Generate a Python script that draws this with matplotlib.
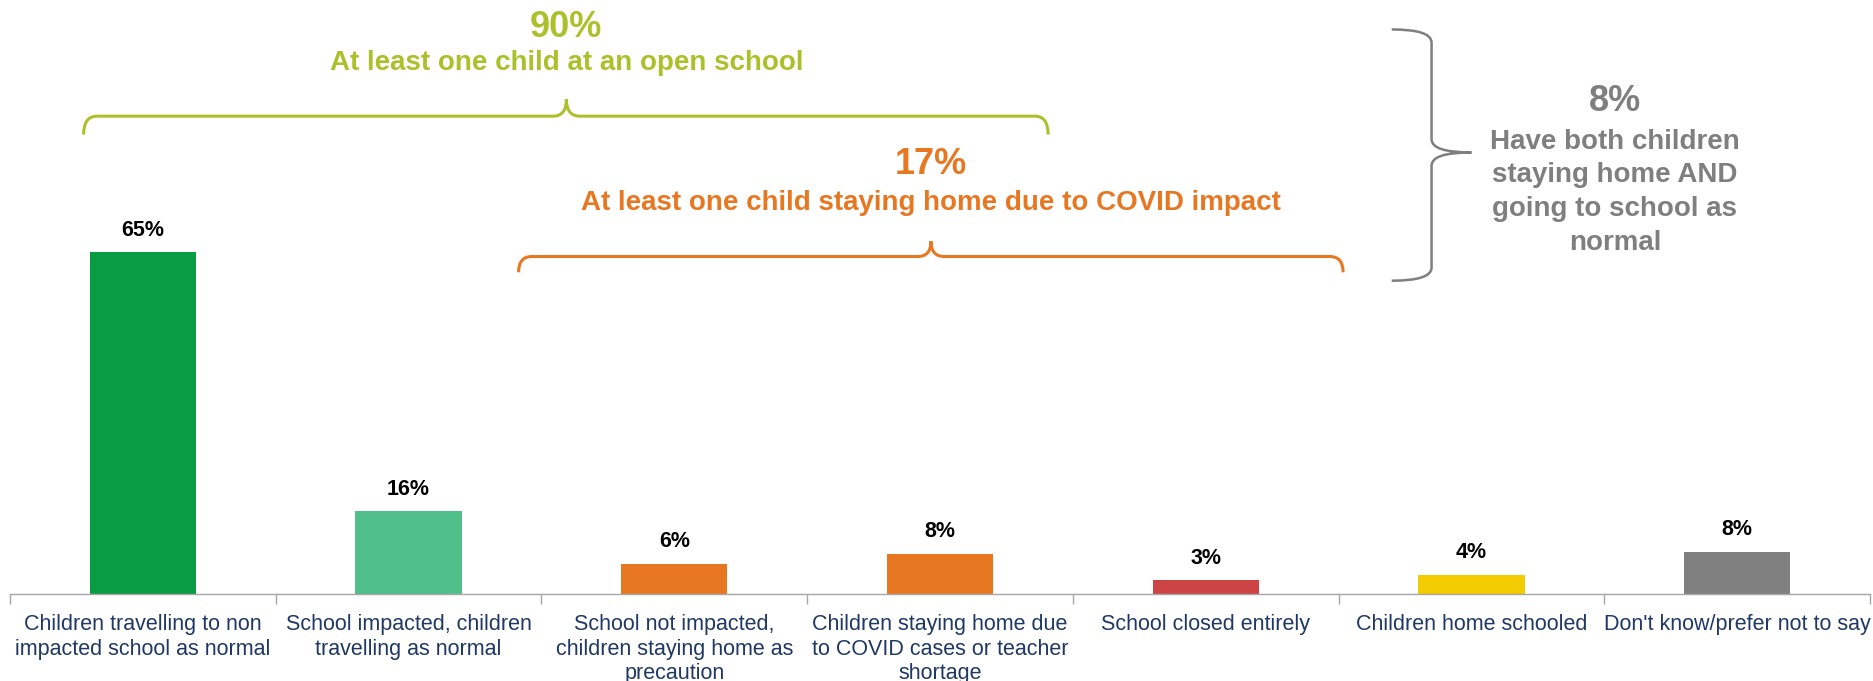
import numpy as np
import matplotlib
matplotlib.use('Agg')
import matplotlib.pyplot as plt
from matplotlib.path import Path
from matplotlib.patches import PathPatch

plt.rcParams['font.family'] = ['Liberation Sans', 'DejaVu Sans']

# data
categories = [
	"Children travelling to non\nimpacted school as normal",
	"School impacted, children\ntravelling as normal",
	"School not impacted,\nchildren staying home as\nprecaution",
	"Children staying home due\nto COVID cases or teacher\nshortage",
	"School closed entirely",
	"Children home schooled",
	"Don't know/prefer not to say",
]
values = [65, 15.7, 5.7, 7.6, 2.6, 3.6, 8.0]
bar_colors = ['#0a9c42', '#50bf8a', '#e87722', '#e87722', '#cc4444', '#f2cc00', '#808080']

open_pct = "90%"
open_text = "At least one child at an open school"
home_pct = "17%"
home_text = "At least one child staying home due to COVID impact"
both_pct = "8%"
both_lines = ["Have both children", "staying home AND", "going to school as", "normal"]

GREEN = '#a9c22b'
ORANGE = '#e87722'
GREY = '#7f7f7f'
NAVY = '#1f3864'


# horizontal curly brace, tip pointing up
def hbrace(ax, x0, x1, xm, y, drop, rise, color, lw=2.2, r=0.05):
	verts = [(x0, y - drop), (x0, y), (x0 + r, y),
		(xm - r, y), (xm, y), (xm, y + rise),
		(xm, y), (xm + r, y),
		(x1 - r, y), (x1, y), (x1, y - drop)]
	codes = [Path.MOVETO, Path.CURVE3, Path.CURVE3,
		Path.LINETO, Path.CURVE3, Path.CURVE3,
		Path.CURVE3, Path.CURVE3,
		Path.LINETO, Path.CURVE3, Path.CURVE3]
	ax.add_patch(PathPatch(Path(verts, codes), fill=False, edgecolor=color, lw=lw, capstyle='butt'))


# vertical curly brace, tip pointing right
def vbrace(ax, x_end, x_spine, x_tip, y0, y1, ym, color, lw=1.8, ry=2.5):
	verts = [(x_end, y1), (x_spine, y1), (x_spine, y1 - ry),
		(x_spine, ym + ry), (x_spine, ym), (x_tip, ym),
		(x_spine, ym), (x_spine, ym - ry),
		(x_spine, y0 + ry), (x_spine, y0), (x_end, y0)]
	codes = [Path.MOVETO, Path.CURVE3, Path.CURVE3,
		Path.LINETO, Path.CURVE3, Path.CURVE3,
		Path.CURVE3, Path.CURVE3,
		Path.LINETO, Path.CURVE3, Path.CURVE3]
	ax.add_patch(PathPatch(Path(verts, codes), fill=False, edgecolor=color, lw=lw))


fig = plt.figure(figsize=(18.74, 6.81), dpi=100)
ax = fig.add_axes([10 / 1874, 87 / 681, 1860 / 1874, 594 / 681])

x = np.arange(len(categories))
ax.bar(x, values, width=0.4, color=bar_colors)
for i, v in enumerate(values):
	ax.annotate(f"{v:.0f}%", (i, v), xytext=(0, 12), textcoords='offset points',
		ha='center', va='baseline', fontsize=15.5, fontweight='bold', color='black')

ax.set_xlim(-0.5, len(categories) - 0.5)
ax.set_ylim(0, 113)
ax.set_xticks(x)
ax.set_xticklabels(categories, fontsize=15.5, color=NAVY, linespacing=1.22)
ax.set_xticks(np.arange(-0.5, len(categories), 1), minor=True)
ax.tick_params(axis='x', which='major', length=0, pad=14.5)
ax.tick_params(axis='x', which='minor', length=7, color='#a6a6a6', width=1)
ax.set_yticks([])
for s in ['top', 'left', 'right']:
	ax.spines[s].set_visible(False)
ax.spines['bottom'].set_color('#a6a6a6')
ax.spines['bottom'].set_linewidth(1)

# open school group
hbrace(ax, -0.223, 3.407, 1.594, 90.9, 3.5, 3.2, GREEN)
ax.text(1.594, 105.9, open_pct, ha='center', va='baseline', fontsize=26, fontweight='bold', color=GREEN)
ax.text(1.594, 99.6, open_text, ha='center', va='baseline', fontsize=20, fontweight='bold', color=GREEN)

# staying home group
hbrace(ax, 1.414, 4.517, 2.966, 64.2, 3.0, 2.9, ORANGE)
ax.text(2.966, 79.9, home_pct, ha='center', va='baseline', fontsize=26, fontweight='bold', color=ORANGE)
ax.text(2.966, 73.1, home_text, ha='center', va='baseline', fontsize=20, fontweight='bold', color=ORANGE)

# both group
vbrace(ax, 4.70, 4.85, 5.0, 59.6, 107.4, 84.0, GREY)
ax.text(5.54, 91.8, both_pct, ha='center', va='baseline', fontsize=26, fontweight='bold', color=GREY)
for k, line in enumerate(both_lines):
	ax.text(5.54, 84.7 - k * 6.4, line, ha='center', va='baseline', fontsize=20, fontweight='bold', color=GREY)

fig.savefig('out.png', dpi=100)
